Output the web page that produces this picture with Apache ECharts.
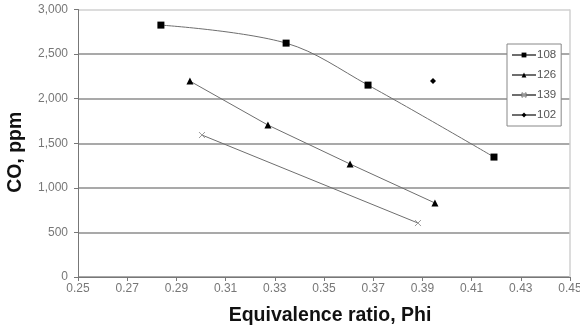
<!DOCTYPE html>
<html>
<head>
<meta charset="utf-8">
<script src="https://cdn.jsdelivr.net/npm/echarts@6/dist/echarts.min.js"></script>
<style>
  html, body { margin: 0; padding: 0; background: #fff; }
  #chart { width: 580px; height: 329px; }
</style>
</head>
<body>
<div id="chart"></div>
<script>
// data: [phi, CO ppm]
var s108 = [[0.2837, 2825], [0.3346, 2623], [0.3679, 2152], [0.4191, 1345]];
var s126 = [[0.2955, 2197], [0.3272, 1704], [0.3606, 1267], [0.3951, 830]];
var s139 = [[0.3004, 1592], [0.3882, 605]];
var s102 = [[0.3943, 2197]];
var seriesNames = ["108", "126", "139", "102"];

var xMin = 0.25, xMax = 0.45, xStep = 0.02;
var yMin = 0, yMax = 3000, yStep = 500;

var crossPath = "path://M0,0L10,10M10,0L0,10";

var chart = echarts.init(document.getElementById("chart"));

function lineSeries(name, data, symbol, size, extra) {
  var s = {
    name: name,
    type: "line",
    data: data,
    symbol: symbol,
    symbolSize: size,
    showSymbol: true,
    lineStyle: { color: "#6e6e6e", width: 1 },
    itemStyle: { color: "#000", borderColor: "#000", borderWidth: 0 }
  };
  for (var k in extra) s[k] = extra[k];
  return s;
}

var option = {
  animation: false,
  textStyle: { fontFamily: "Liberation Sans, Arial, sans-serif" },
  grid: { left: 78, right: 10, top: 9.5, bottom: 52, containLabel: false, outerBoundsMode: "none" },
  xAxis: {
    type: "value",
    min: xMin,
    max: xMax,
    interval: xStep,
    name: "Equivalence ratio, Phi",
    nameLocation: "middle",
    nameGap: 29,
    nameTextStyle: { fontSize: 19.5, fontWeight: "bold", color: "#111", padding: [0, 0, 0, 12] },
    axisLine: { show: true, lineStyle: { color: "#777", width: 1 } },
    axisTick: { show: true, length: 4, lineStyle: { color: "#777" } },
    axisLabel: {
      color: "#777", fontSize: 12, margin: 6,
      formatter: function (v) { return v.toFixed(2); }
    },
    splitLine: { show: false }
  },
  yAxis: {
    type: "value",
    min: yMin,
    max: yMax,
    interval: yStep,
    name: "CO, ppm",
    nameLocation: "middle",
    nameGap: 52,
    nameTextStyle: { fontSize: 19.5, fontWeight: "bold", color: "#111", padding: [0, 18, 0, 0] },
    axisLine: { show: true, lineStyle: { color: "#777", width: 1 } },
    axisTick: { show: true, length: 4, lineStyle: { color: "#777" } },
    axisLabel: {
      color: "#777", fontSize: 12, margin: 10,
      formatter: function (v) { return v.toLocaleString("en-US"); }
    },
    splitLine: {
      show: true,
      lineStyle: {
        color: ["#8c8c8c", "#8c8c8c", "#8c8c8c", "#8c8c8c", "#8c8c8c", "#8c8c8c", "#d0d0d0"],
        width: 1.5
      }
    }
  },
  legend: {
    orient: "vertical",
    left: 507,
    top: 44,
    padding: [5, 5, 5, 4],
    itemGap: 8,
    itemWidth: 24,
    itemHeight: 6,
    borderColor: "#888",
    borderWidth: 1,
    backgroundColor: "#fff",
    textStyle: { color: "#555", fontSize: 11.5, padding: [0, 0, 0, -4] },
    data: seriesNames
  },
  series: [
    lineSeries(seriesNames[0], s108, "rect", 7, { smooth: 0.35 }),
    lineSeries(seriesNames[1], s126, "triangle", 7, {}),
    lineSeries(seriesNames[2], s139, crossPath, 6, {
      itemStyle: { color: "#999", borderColor: "#999", borderWidth: 1 }
    }),
    lineSeries(seriesNames[3], s102, "diamond", 6, {})
  ]
};

chart.setOption(option);
// light frame on the right side of the plot
var p0 = chart.convertToPixel({ gridIndex: 0 }, [xMax, yMax]);
var p1 = chart.convertToPixel({ gridIndex: 0 }, [xMax, yMin]);
chart.setOption({
  graphic: [
    { type: "line", z: 0, shape: { x1: p0[0], y1: p0[1], x2: p1[0], y2: p1[1] },
      style: { stroke: "#d0d0d0", lineWidth: 1.5 } }
  ]
});
</script>
</body>
</html>
